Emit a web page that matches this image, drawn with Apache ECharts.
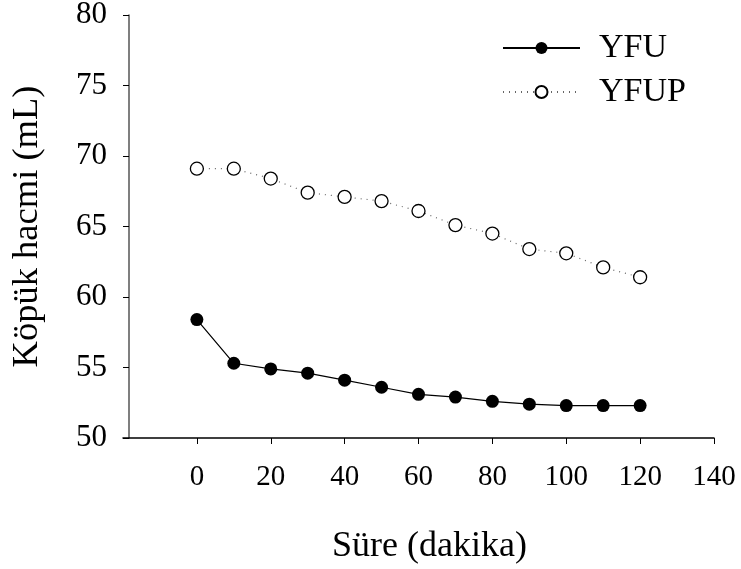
<!DOCTYPE html>
<html>
<head>
<meta charset="utf-8">
<script src="https://cdn.jsdelivr.net/npm/echarts@6/dist/echarts.min.js"></script>
<style>
  html, body { margin: 0; padding: 0; background: #fff; }
  #main { width: 741px; height: 569px; }
</style>
</head>
<body>
<div id="main"></div>
<script>
  // 数据
  const times = [0, 10, 20, 30, 40, 50, 60, 70, 80, 90, 100, 110, 120]
  const yfu = [58.4, 55.3, 54.9, 54.6, 54.1, 53.6, 53.1, 52.9, 52.6, 52.4, 52.3, 52.3, 52.3]
  const yfup = [69.1, 69.1, 68.4, 67.4, 67.1, 66.8, 66.1, 65.1, 64.5, 63.4, 63.1, 62.1, 61.4]
  const xTicks = [0, 20, 40, 60, 80, 100, 120, 140]
  const yTicks = [50, 55, 60, 65, 70, 75, 80]

  const font = 'Liberation Serif'

  const myChart = echarts.init(document.getElementById('main'))
  const option = {
      backgroundColor: '#fff',
      animation: false,
      textStyle: { fontFamily: font, color: '#000' },
      grid: { left: 123, right: 27, top: 15, bottom: 131, outerBoundsMode: 'none', containLabel: false },
      legend: {
          orient: 'vertical',
          left: 497,
          top: 26,
          itemWidth: 77,
          itemHeight: 15,
          itemGap: 10,
          textStyle: { fontFamily: font, fontSize: 34, lineHeight: 34, color: '#000', padding: [0, 0, 0, 14] },
          data: ['YFU', 'YFUP']
      },
      xAxis: {
          type: 'value',
          min: -20,
          max: 140,
          interval: 20,
          name: 'Süre (dakika)',
          nameLocation: 'middle',
          nameGap: 91,
          nameTextStyle: { fontFamily: font, fontSize: 36, color: '#000', padding: [0, 0, 0, 22] },
          axisLine: { onZero: false, lineStyle: { color: '#000', width: 1.5 } },
          axisTick: { show: true, length: 6, customValues: xTicks, lineStyle: { color: '#000' } },
          axisLabel: { fontFamily: font, fontSize: 29, color: '#000', margin: 25, customValues: xTicks },
          splitLine: { show: false }
      },
      yAxis: {
          type: 'value',
          min: yTicks[0],
          max: yTicks[yTicks.length - 1],
          interval: 5,
          offset: -6,
          name: 'Köpük hacmi (mL)',
          nameLocation: 'middle',
          nameGap: 83,
          nameTextStyle: { fontFamily: font, fontSize: 36.5, color: '#000' },
          axisLine: { show: true, onZero: false, lineStyle: { color: '#555', width: 1.5 } },
          axisTick: { show: true, length: 6, lineStyle: { color: '#000' } },
          axisLabel: { fontFamily: font, fontSize: 31, color: '#000', margin: 22 },
          splitLine: { show: false }
      },
      series: [{
              name: 'YFU',
              type: 'line',
              data: times.map((t, i) => [t, yfu[i]]),
              symbol: 'circle',
              symbolSize: 13,
              itemStyle: { color: '#000' },
              lineStyle: { color: '#000', width: 1.2 }
          },
          {
              name: 'YFUP',
              type: 'line',
              data: times.map((t, i) => [t, yfup[i]]),
              symbol: 'circle',
              symbolSize: 13,
              itemStyle: { color: '#fff', borderColor: '#000', borderWidth: 1.3 },
              lineStyle: { color: '#666', width: 1.2, type: [1, 5] }
          }
      ]
  }
  myChart.setOption(option)
</script>
</body>
</html>
